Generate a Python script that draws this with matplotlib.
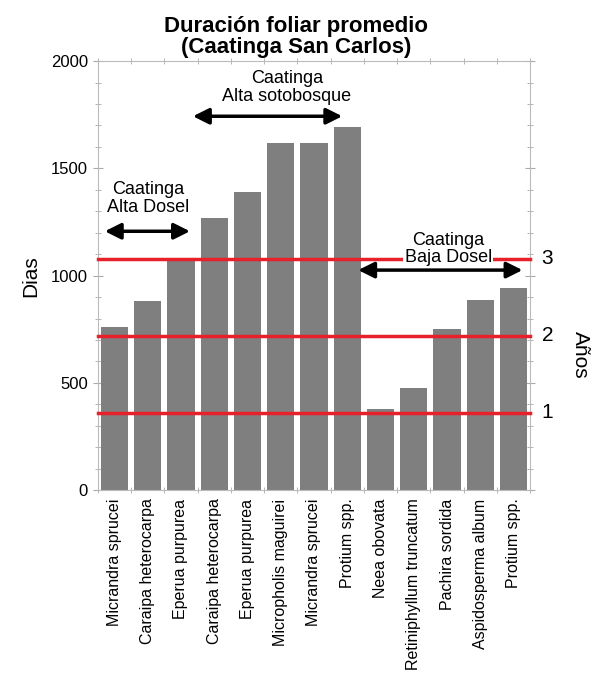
import numpy as np
import matplotlib
matplotlib.use('Agg')
import matplotlib.pyplot as plt
from matplotlib.ticker import MultipleLocator, FixedLocator
import matplotlib.transforms as mtransforms

plt.rcParams['font.family'] = ['Liberation Sans', 'DejaVu Sans']

species = ['Micrandra sprucei', 'Caraipa heterocarpa', 'Eperua purpurea',
           'Caraipa heterocarpa', 'Eperua purpurea', 'Micropholis maguirei',
           'Micrandra sprucei', 'Protium spp.', 'Neea obovata',
           'Retiniphyllum truncatum', 'Pachira sordida', 'Aspidosperma album',
           'Protium spp.']
dias = [762, 883, 1070, 1268, 1389, 1618, 1620, 1692, 378, 475, 750, 886, 942]
year_days = [360, 720, 1080]
year_labels = ['1', '2', '3']

fig = plt.figure(figsize=(5.93, 6.79), dpi=100)
ax = fig.add_axes([0.165, 0.278, 0.729, 0.632])

x = np.arange(len(species))
ax.bar(x, dias, width=0.82, color='#7f7f7f', zorder=2)

for d, lab in zip(year_days, year_labels):
    ax.axhline(d, color='#e8202a', lw=2.5, zorder=3, clip_on=False)
    ax.text(1.04, d, lab, transform=mtransforms.blended_transform_factory(ax.transAxes, ax.transData),
            ha='center', va='center', fontsize=15)

ax.set_xlim(-0.5, len(species) - 0.5)
ax.set_ylim(0, 2000)

ax.set_xticks(x)
ax.set_xticklabels(species, rotation=90, fontsize=11.5)
ax.xaxis.set_minor_locator(FixedLocator(np.arange(-0.5, len(species), 1)))
ax.tick_params(axis='x', which='major', length=0, pad=6)
ax.tick_params(axis='x', which='minor', length=5, direction='inout', color='#aaaaaa', top=True)

ax.yaxis.set_major_locator(MultipleLocator(500))
ax.yaxis.set_minor_locator(MultipleLocator(100))
ax.tick_params(axis='y', which='major', length=7, direction='inout', color='#aaaaaa', labelsize=12, right=True)
ax.tick_params(axis='y', which='minor', length=4, direction='inout', color='#aaaaaa', right=True)

for s in ax.spines.values():
    s.set_color('#bbbbbb')
    s.set_linewidth(0.8)

ax.set_ylabel('Dias', fontsize=15, labelpad=8)
fig.text(0.978, 0.477, 'Años', rotation=-90, ha='center', va='center', fontsize=15)

fig.text(0.5, 0.945, 'Duración foliar promedio\n(Caatinga San Carlos)', ha='center', va='center',
         fontsize=16, fontweight='bold', linespacing=1.0)

arrow = dict(arrowstyle='<|-|>', color='black', lw=2.5, mutation_scale=24, shrinkA=0, shrinkB=0)
ax.annotate('', xy=(-0.29, 1207), xytext=(2.27, 1207), arrowprops=arrow)
ax.text(1.0, 1360, 'Caatinga\nAlta Dosel', ha='center', va='center', fontsize=13, linespacing=1.05)

ax.annotate('', xy=(2.36, 1743), xytext=(6.85, 1743), arrowprops=arrow)
ax.text(5.19, 1876, 'Caatinga\nAlta sotobosque', ha='center', va='center', fontsize=13, linespacing=1.05)

ax.annotate('', xy=(7.33, 1026), xytext=(12.27, 1026), arrowprops=arrow)
ax.text(10.04, 1125, 'Caatinga\nBaja Dosel', ha='center', va='center', fontsize=13, linespacing=1.05,
        bbox=dict(facecolor='white', edgecolor='none', pad=1), zorder=4)

fig.savefig('out.png', dpi=100)
